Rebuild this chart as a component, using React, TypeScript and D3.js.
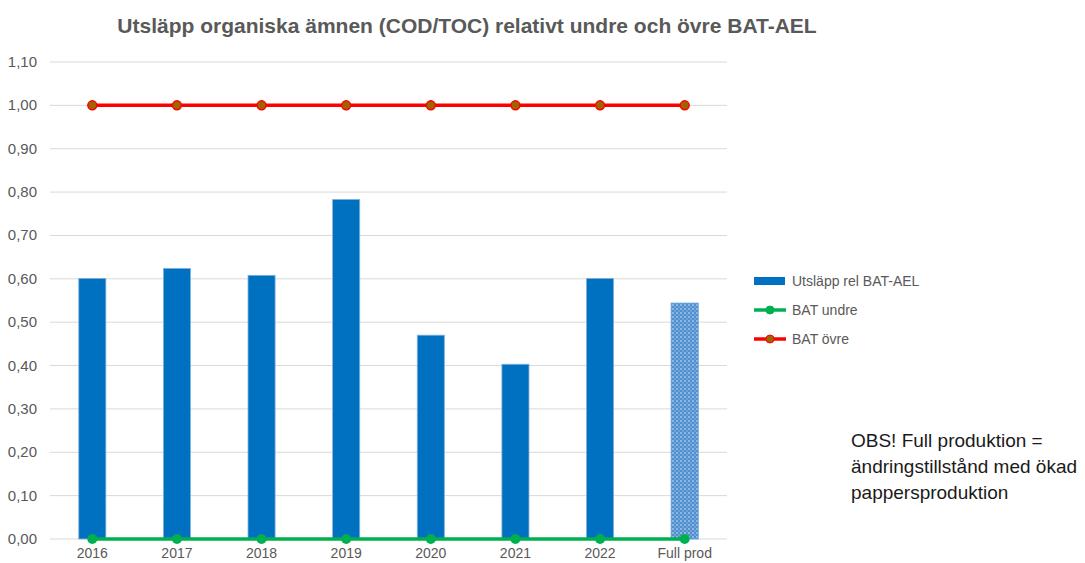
import React from "react";
import * as d3 from "d3";

const categories = ["2016", "2017", "2018", "2019", "2020", "2021", "2022", "Full prod"];
const emissions = [0.601, 0.624, 0.608, 0.783, 0.47, 0.403, 0.601, 0.544];
const batLower = [0, 0, 0, 0, 0, 0, 0, 0];
const batUpper = [1, 1, 1, 1, 1, 1, 1, 1];
const yTicks = [0, 0.1, 0.2, 0.3, 0.4, 0.5, 0.6, 0.7, 0.8, 0.9, 1.0, 1.1];
const legendItems = ["Utsläpp rel BAT-AEL", "BAT undre", "BAT övre"];
const noteLines = ["OBS! Full produktion =", "ändringstillstånd med ökad", "pappersproduktion"];
const title = "Utsläpp organiska ämnen (COD/TOC) relativt undre och övre BAT-AEL";

export default function App() {
  const W = 1085, H = 563;
  const left = 50, right = 727, top = 62, bottom = 539;
  const x = d3.scaleBand<string>().domain(categories).range([left, right]).padding(0);
  const y = d3.scaleLinear().domain([0, 1.1]).range([bottom, top]);
  const bw = x.bandwidth() * 0.32;
  const cx = (c: string) => (x(c) as number) + x.bandwidth() / 2;
  const line = d3.line<number>().x((_, i) => cx(categories[i])).y((v) => y(v));
  const fmt = (v: number) => v.toFixed(2).replace(".", ",");
  const font = "'Liberation Sans', Arial, sans-serif";
  return (
    <svg width={W} height={H} style={{ position: "absolute", left: 0, top: 0, fontFamily: font }}>
      <defs>
        <pattern id="dots" width="4" height="4" patternUnits="userSpaceOnUse">
          <rect width="4" height="4" fill="#4F8FD0" />
          <circle cx="1" cy="1" r="0.7" fill="#ffffff" />
          <circle cx="3" cy="3" r="0.7" fill="#A9CBEC" />
        </pattern>
      </defs>
      <rect width={W} height={H} fill="#fff" />
      <text x={467} y={33} textAnchor="middle" fontSize={21} fontWeight="bold" fill="#595959">{title}</text>
      {yTicks.map((t) => (
        <g key={t}>
          <line x1={left} x2={right} y1={y(t)} y2={y(t)} stroke="#D9D9D9" strokeWidth={1} />
          <text x={37} y={y(t) + 5} textAnchor="end" fontSize={15} fill="#595959">{fmt(t)}</text>
        </g>
      ))}
      {categories.map((c, i) => (
        <rect key={c} x={cx(c) - bw / 2} y={y(emissions[i])} width={bw} height={y(0) - y(emissions[i])}
          fill={i === categories.length - 1 ? "url(#dots)" : "#0070C0"}
          stroke={i === categories.length - 1 ? "#5B9BD5" : "#7FB2E0"} strokeWidth={0.8} />
      ))}
      {categories.map((c) => (
        <text key={c} x={cx(c)} y={558} textAnchor="middle" fontSize={14} fill="#595959">{c}</text>
      ))}
      <path d={line(batLower) || ""} fill="none" stroke="#00B050" strokeWidth={3.5} />
      {batLower.map((v, i) => (
        <circle key={i} cx={cx(categories[i])} cy={y(v)} r={5} fill="#00B050" />
      ))}
      <path d={line(batUpper) || ""} fill="none" stroke="#FF0000" strokeWidth={3.5} />
      {batUpper.map((v, i) => (
        <circle key={i} cx={cx(categories[i])} cy={y(v)} r={4.5} fill="#9C6500" stroke="#FF0000" strokeWidth={1.5} />
      ))}
      {legendItems.map((name, i) => {
        const ly = 281 + i * 29;
        return (
          <g key={name}>
            {i === 0 ? (
              <rect x={754} y={ly - 4} width={31} height={8} fill="#0070C0" />
            ) : (
              <g>
                <line x1={754} x2={786} y1={ly} y2={ly} stroke={i === 1 ? "#00B050" : "#FF0000"} strokeWidth={3.5} />
                <circle cx={770} cy={ly} r={4} fill={i === 1 ? "#00B050" : "#9C6500"} stroke={i === 1 ? "#00B050" : "#FF0000"} strokeWidth={1} />
              </g>
            )}
            <text x={792} y={ly + 5} fontSize={14} fill="#595959">{name}</text>
          </g>
        );
      })}
      {noteLines.map((t, i) => (
        <text key={t} x={851} y={447 + i * 26} fontSize={19} fill="#1a1a1a">{t}</text>
      ))}
    </svg>
  );
}
